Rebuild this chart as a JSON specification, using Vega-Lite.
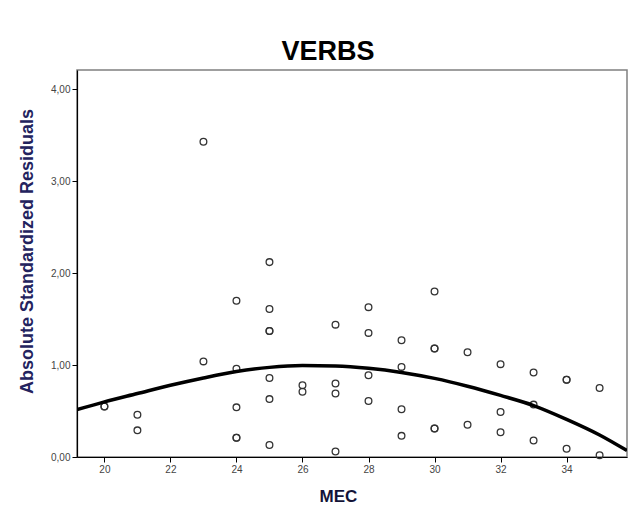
{
  "$schema": "https://vega.github.io/schema/vega-lite/v6.json",
  "autosize": {"type": "none"},
  "width": 550,
  "height": 387,
  "padding": {"left": 77, "top": 70, "right": 16, "bottom": 50},
  "background": "white",
  "title": {
    "text": "VERBS",
    "font": "Liberation Sans",
    "fontSize": 27,
    "fontWeight": "bold",
    "color": "#000000",
    "anchor": "middle",
    "frame": "group",
    "dx": -24,
    "dy": 26,
    "offset": 9,
    "baseline": "alphabetic"
  },
  "config": {
    "view": {"stroke": "#808080", "strokeWidth": 1.5},
    "axis": {
      "labelFont": "Liberation Sans",
      "labelFontSize": 10,
      "labelColor": "#444444",
      "domainColor": "#000000",
      "domainWidth": 1.2,
      "tickColor": "#000000",
      "tickSize": 5,
      "grid": false,
      "titleFont": "Liberation Sans",
      "titleFontWeight": "bold"
    }
  },
  "datasets": {
    "points": [
      {"mec": 20, "res": 0.55},
      {"mec": 20, "res": 0.55},
      {"mec": 21, "res": 0.46},
      {"mec": 21, "res": 0.29},
      {"mec": 23, "res": 3.43},
      {"mec": 23, "res": 1.04},
      {"mec": 24, "res": 1.70},
      {"mec": 24, "res": 0.96},
      {"mec": 24, "res": 0.54},
      {"mec": 24, "res": 0.21},
      {"mec": 24, "res": 0.21},
      {"mec": 25, "res": 2.12},
      {"mec": 25, "res": 1.61},
      {"mec": 25, "res": 1.37},
      {"mec": 25, "res": 1.37},
      {"mec": 25, "res": 0.86},
      {"mec": 25, "res": 0.63},
      {"mec": 25, "res": 0.13},
      {"mec": 26, "res": 0.78},
      {"mec": 26, "res": 0.71},
      {"mec": 27, "res": 1.44},
      {"mec": 27, "res": 0.80},
      {"mec": 27, "res": 0.69},
      {"mec": 27, "res": 0.06},
      {"mec": 28, "res": 1.63},
      {"mec": 28, "res": 1.35},
      {"mec": 28, "res": 0.89},
      {"mec": 28, "res": 0.61},
      {"mec": 29, "res": 1.27},
      {"mec": 29, "res": 0.98},
      {"mec": 29, "res": 0.52},
      {"mec": 29, "res": 0.23},
      {"mec": 30, "res": 1.80},
      {"mec": 30, "res": 1.18},
      {"mec": 30, "res": 1.18},
      {"mec": 30, "res": 0.31},
      {"mec": 30, "res": 0.31},
      {"mec": 31, "res": 1.14},
      {"mec": 31, "res": 0.35},
      {"mec": 32, "res": 1.01},
      {"mec": 32, "res": 0.49},
      {"mec": 32, "res": 0.27},
      {"mec": 33, "res": 0.92},
      {"mec": 33, "res": 0.57},
      {"mec": 33, "res": 0.18},
      {"mec": 34, "res": 0.84},
      {"mec": 34, "res": 0.84},
      {"mec": 34, "res": 0.09},
      {"mec": 35, "res": 0.75},
      {"mec": 35, "res": 0.02}
    ],
    "fit": [
      {"mec": 19.17, "res": 0.515},
      {"mec": 20, "res": 0.60},
      {"mec": 21, "res": 0.69},
      {"mec": 22, "res": 0.78},
      {"mec": 23, "res": 0.86},
      {"mec": 24, "res": 0.93},
      {"mec": 25, "res": 0.975},
      {"mec": 26, "res": 0.995},
      {"mec": 27, "res": 0.99},
      {"mec": 28, "res": 0.965},
      {"mec": 29, "res": 0.92},
      {"mec": 30, "res": 0.855},
      {"mec": 31, "res": 0.77},
      {"mec": 32, "res": 0.67},
      {"mec": 33, "res": 0.56},
      {"mec": 34, "res": 0.41},
      {"mec": 35, "res": 0.24},
      {"mec": 35.83, "res": 0.07}
    ]
  },
  "encoding": {
    "x": {
      "field": "mec",
      "type": "quantitative",
      "scale": {"domain": [19.17, 35.83], "nice": false, "zero": false},
      "axis": {
        "title": "MEC",
        "values": [20, 22, 24, 26, 28, 30, 32, 34],
        "format": "d",
        "titleFontSize": 17,
        "titleColor": "#141438",
        "titleX": 261,
        "titleY": 44,
        "titleAlign": "center",
        "titleBaseline": "alphabetic",
        "labelPadding": 2
      }
    },
    "y": {
      "field": "res",
      "type": "quantitative",
      "scale": {"domain": [0, 4.21], "nice": false},
      "axis": {
        "title": "Absolute Standardized Residuals",
        "values": [0, 1, 2, 3, 4],
        "labelExpr": "replace(format(datum.value, '.2f'), '.', ',')",
        "titleFontSize": 18,
        "titleColor": "#23235e",
        "titleX": -50,
        "titleY": 181,
        "titleAngle": -90,
        "titleAlign": "center",
        "titleBaseline": "middle",
        "labelPadding": 2
      }
    }
  },
  "layer": [
    {
      "data": {"name": "points"},
      "mark": {"type": "point", "shape": "circle", "filled": false, "stroke": "#333333", "strokeWidth": 1.3, "size": 45, "opacity": 1}
    },
    {
      "data": {"name": "fit"},
      "mark": {"type": "line", "color": "#000000", "strokeWidth": 3.5, "interpolate": "monotone", "clip": true}
    }
  ]
}
